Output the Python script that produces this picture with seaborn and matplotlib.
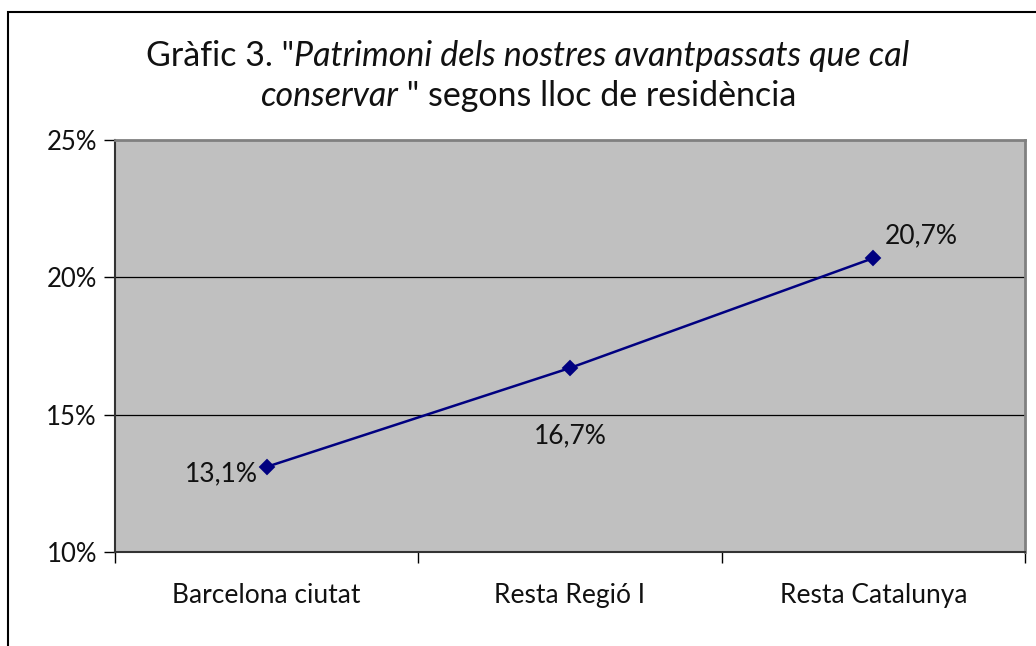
import matplotlib
matplotlib.use("Agg")
import matplotlib.pyplot as plt
import seaborn as sns
import pandas as pd
from matplotlib.patches import Rectangle
from matplotlib.ticker import FixedLocator, FuncFormatter

categories = ["Barcelona ciutat", "Resta Regió I", "Resta Catalunya"]
values = [13.1, 16.7, 20.7]
y_ticks = [10, 15, 20, 25]

sns.set_theme(style="white")
plt.rcParams['font.family'] = ['Lato', 'DejaVu Sans']
plt.rcParams['font.weight'] = 'normal'

df = pd.DataFrame({"cat": categories, "val": values})

fig = plt.figure(figsize=(10.36, 6.46), dpi=100)
ax = fig.add_axes([115/1036, 1 - 552/646, (1025-115)/1036, (552-140)/646])
ax.set_facecolor("#C0C0C0")

sns.pointplot(data=df, x="cat", y="val", color="#000080", markers="D",
              markersize=7, linewidth=1.8, ax=ax, zorder=5)

ax.set_ylim(10, 25)
ax.set_xlim(-0.5, 2.5)
ax.set_xlabel("")
ax.set_ylabel("")
ax.yaxis.set_major_locator(FixedLocator(y_ticks))
ax.yaxis.set_major_formatter(FuncFormatter(lambda v, p: f"{int(v)}%"))
ax.grid(False)
for yv in y_ticks[1:-1]:
    ax.axhline(yv, color="black", linewidth=0.9, zorder=1)

ax.tick_params(axis="y", which="major", length=8, width=1, color="black",
               labelsize=18.5, pad=5, left=True, labelcolor="#111111")
ax.tick_params(axis="x", which="major", length=0, labelsize=19, pad=22,
               labelcolor="#111111")
ax.xaxis.set_minor_locator(FixedLocator([-0.5, 0.5, 1.5, 2.5]))
ax.tick_params(axis="x", which="minor", length=8, width=1, color="black",
               bottom=True)

for s in ["left", "bottom"]:
    ax.spines[s].set_color("#333333")
    ax.spines[s].set_linewidth(1.5)
for s in ["top", "right"]:
    ax.spines[s].set_color("#808080")
    ax.spines[s].set_linewidth(2)

# data labels
labels = [f"{v:.1f}".replace(".", ",") + "%" for v in values]
ax.annotate(labels[0], (0, values[0]), xytext=(-6, -5), textcoords="offset points",
            ha="right", va="center", fontsize=19, color="#111111")
ax.annotate(labels[1], (1, values[1]), xytext=(0, -49), textcoords="offset points",
            ha="center", va="center", fontsize=19, color="#111111")
ax.annotate(labels[2], (2, values[2]), xytext=(8, 16), textcoords="offset points",
            ha="left", va="center", fontsize=19, color="#111111")

# figure border
fig.patches.append(Rectangle((8/1036, -0.2), 1.2, 0.2 + (1 - 12/646),
                             transform=fig.transFigure, fill=False,
                             edgecolor="black", linewidth=1.5))

# title with mixed italics
title_lines = [
    [("Gràfic 3. \"", "normal"), ("Patrimoni dels nostres avantpassats que cal", "italic")],
    [("conservar", "italic"), (" \" segons lloc de residència", "normal")],
]
fig.canvas.draw()
r = fig.canvas.get_renderer()
cx = 528
baselines = [66, 106]
fs = 24.5
for line, yb in zip(title_lines, baselines):
    pieces = []
    total = 0
    for txt, st in line:
        t = fig.text(0, 0, txt, fontsize=fs, style=st, color="#111111",
                     va="baseline", ha="left")
        w = t.get_window_extent(r).width
        pieces.append((t, w))
        total += w
    x = cx - total / 2
    for t, w in pieces:
        t.set_position((x / 1036, 1 - yb / 646))
        x += w

fig.savefig("out.png", dpi=100)
